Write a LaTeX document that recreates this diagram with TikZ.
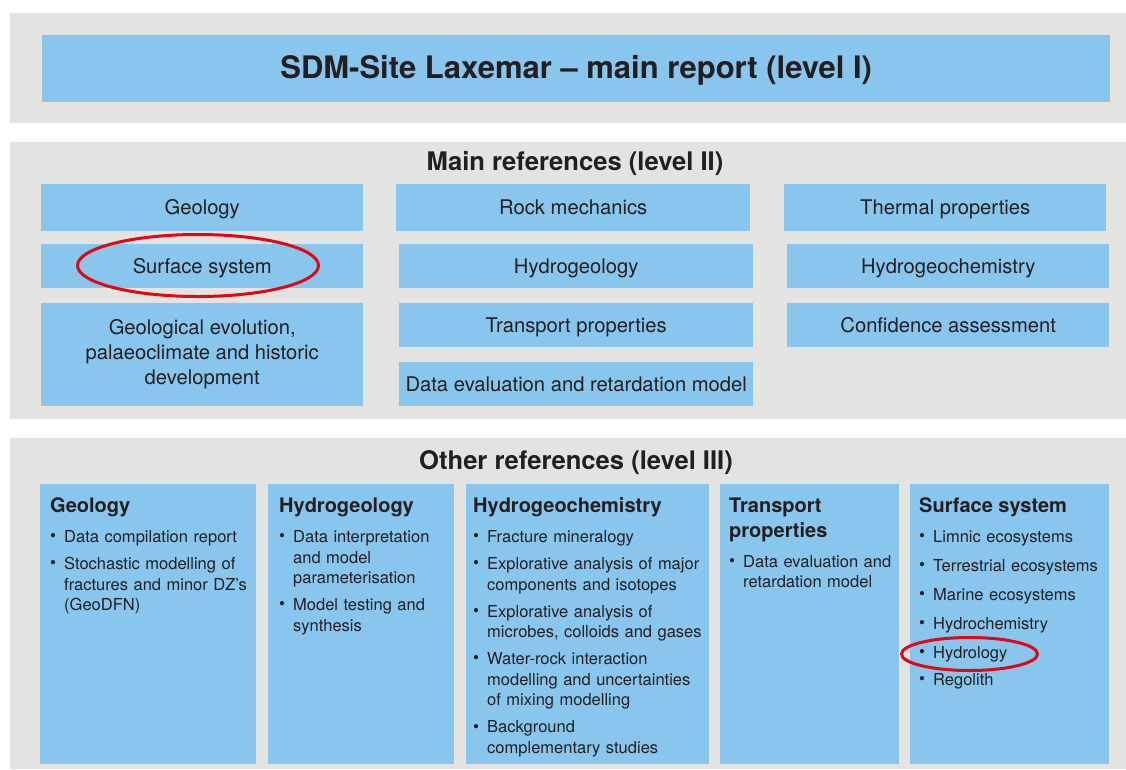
\documentclass[tikz,border=0pt]{standalone}
\usepackage{fontspec}
\setmainfont{TeX Gyre Heros}
\definecolor{panelgray}{HTML}{E3E3E2}
\definecolor{skyblue}{HTML}{88C6EE}
\definecolor{ink}{HTML}{231F20}
\definecolor{ringred}{HTML}{E30613}

% column heading and bullet entries of the level III lists
\newcommand\colhead[1]{{\fontsize{20}{25.5}\selectfont\bfseries #1\par}}
\newcommand\bul{\makebox[14pt][l]{\raisebox{0.8pt}{\fontsize{17}{17}\selectfont •}}}
\newcommand\entry[2][6.4pt]{\vspace{#1}\noindent\hangindent=14pt\hangafter=1\bul#2\par}

\begin{document}
\begin{tikzpicture}[x=1pt,y=-1pt,
  band/.style={fill=panelgray},
  cell/.style={fill=skyblue, anchor=north west, inner sep=0pt, text=ink,
    font=\fontsize{20.2}{25}\selectfont, align=center},
  oneline/.style={text height=16.5pt, text depth=2.3pt},
  heading/.style={anchor=base, text=ink, inner sep=0pt,
    font=\fontsize{25.6}{30}\selectfont\bfseries},
  listtext/.style={anchor=base west, inner sep=0pt, text=ink, align=left,
    font=\fontsize{16.5}{20.6}\selectfont},
  redring/.style={draw=ringred, line width=3pt}
]
\useasboundingbox (0,0) rectangle (1126,769);
\fill[white] (0,0) rectangle (1126,769);

% grey bands
\fill[band] (10,13) rectangle (1126,123);
\fill[band] (10,142) rectangle (1126,418.5);
\fill[band] (10,438) rectangle (1126,769);

% level I
\node[cell, font=\fontsize{31}{36}\selectfont\bfseries, text height=23pt, text depth=3pt,
  minimum width=1068pt, minimum height=67pt] (title) at (42,35)
  {SDM-Site Laxemar – main report (level I)};

% level II
\node[heading] (l2head) at (575,170) {Main references (level II)};
\node[cell, oneline, minimum width=322pt, minimum height=46.7pt] (geo) at (41,184) {Geology};
\node[cell, oneline, minimum width=354pt, minimum height=46.7pt] (rock) at (396,184) {Rock mechanics};
\node[cell, oneline, minimum width=322pt, minimum height=46.7pt] (therm) at (784,184) {Thermal properties};
\node[cell, oneline, minimum width=322pt, minimum height=43.7pt] (surf) at (41,244) {Surface system};
\node[cell, oneline, minimum width=354pt, minimum height=43.7pt] (hydro) at (399,244) {Hydrogeology};
\node[cell, oneline, minimum width=322pt, minimum height=43.7pt] (hchem) at (787,244) {Hydrogeochemistry};
\node[cell, minimum width=322pt, minimum height=102.7pt] (evol) at (41,303)
  {Geological evolution,\\palaeoclimate and historic\\development};
\node[cell, oneline, minimum width=354pt, minimum height=43.7pt] (trans) at (399,303) {Transport properties};
\node[cell, oneline, minimum width=322pt, minimum height=43.7pt] (conf) at (787,303) {Confidence assessment};
\node[cell, oneline, minimum width=354pt, minimum height=43.7pt] (deval) at (399,362) {Data evaluation and retardation model};

% level III
\node[heading] (l3head) at (576,469) {Other references (level III)};
\node[cell, minimum width=216pt, minimum height=279.5pt] (c1) at (40,484) {};
\node[cell, minimum width=186pt, minimum height=279.5pt] (c2) at (268,484) {};
\node[cell, minimum width=243pt, minimum height=279.5pt] (c3) at (466,484) {};
\node[cell, minimum width=179pt, minimum height=279.5pt] (c4) at (720,484) {};
\node[cell, minimum width=199pt, minimum height=279.5pt] (c5) at (910,484) {};

\node[listtext, text width=204pt] (c1list) at (50,512.3) {\colhead{Geology}%
  \entry[9.6pt]{Data compilation report}%
  \entry{Stochastic modelling of\newline fractures and minor DZ’s\newline (GeoDFN)}};
\node[listtext, text width=174pt] (c2list) at (279,512.3) {\colhead{Hydrogeology}%
  \entry[9.6pt]{Data interpretation\newline and model\newline parameterisation}%
  \entry{Model testing and\newline synthesis}};
\node[listtext, text width=234pt] (c3list) at (473,512.3) {\colhead{Hydrogeochemistry}%
  \entry[9.6pt]{Fracture mineralogy}%
  \entry{Explorative analysis of major\newline components and isotopes}%
  \entry{Explorative analysis of\newline microbes, colloids and gases}%
  \entry{Water-rock interaction\newline modelling and uncertainties\newline of mixing modelling}%
  \entry{Background\newline complementary studies}};
\node[listtext, text width=170pt] (c4list) at (729,512.3) {\colhead{Transport\\properties}%
  \entry[8.9pt]{Data evaluation and\newline retardation model}};
\node[listtext, text width=190pt] (c5list) at (919,512.3) {\colhead{Surface system}%
  \entry[9.6pt]{Limnic ecosystems}%
  \entry[8.4pt]{Terrestrial ecosystems}%
  \entry[8.4pt]{Marine ecosystems}%
  \entry[8.4pt]{Hydrochemistry}%
  \entry[8.4pt]{Hydrology}%
  \entry[6.2pt]{Regolith}};

% highlight rings
\draw[redring] (198,265.5) ellipse [x radius=120.5pt, y radius=31pt];
\draw[redring] (969.5,654) ellipse [x radius=68pt, y radius=16.5pt];
\end{tikzpicture}
\end{document}
